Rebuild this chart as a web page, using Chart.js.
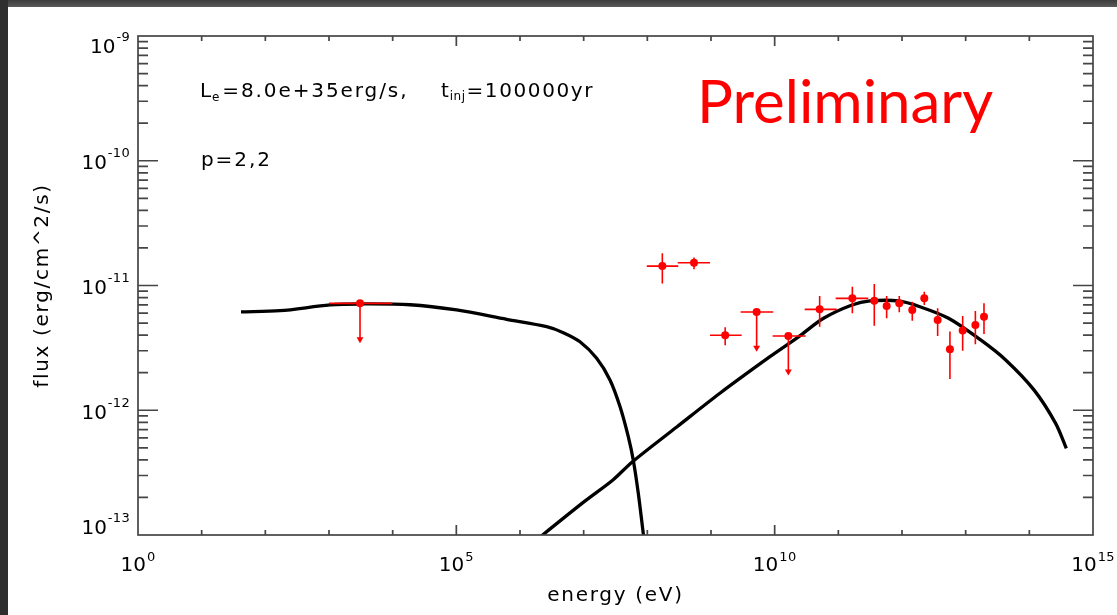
<!DOCTYPE html>
<html><head><meta charset="utf-8">
<script src="https://cdn.jsdelivr.net/npm/chart.js@4.4.1/dist/chart.umd.min.js"></script>
<style>
html,body{margin:0;padding:0;background:#fff;width:1117px;height:615px;overflow:hidden;position:relative}
#topband{position:absolute;left:0;top:0;width:1117px;height:7px;background:linear-gradient(#3c3c3c,#5a5a5a)}
#leftband{position:absolute;left:0;top:0;width:8px;height:615px;background:#2e2e2e}
#wrap{position:absolute;left:0;top:0;width:1117px;height:615px}
</style></head><body>
<div id="topband"></div><div id="leftband"></div>
<div id="wrap"><canvas id="c" width="1117" height="615"></canvas></div>
<script>
// ---- model curves (energy in eV, flux in erg/cm^2/s) ----
const syncEnergy = [41.5, 170, 1.04e3, 3.07e3, 1.87e4, 1.01e5, 6.18e5, 2.62e6, 4.79e6, 8.75e6, 1.60e7, 2.59e7, 3.72e7, 5.02e7, 6.01e7, 7.21e7, 8.63e7, 9.0e7];
const syncFlux   = [6.14e-12, 6.28e-12, 6.98e-12, 7.11e-12, 7.01e-12, 6.37e-12, 5.36e-12, 4.68e-12, 4.19e-12, 3.54e-12, 2.61e-12, 1.75e-12, 1.07e-12, 6.14e-13, 3.99e-13, 2.16e-13, 1.03e-13, 8.7e-14];
const icEnergy = [1.6e6, 2.17e6, 1.02e7, 2.88e7, 5.85e7, 2.93e8, 1.38e9, 8.43e9, 2.37e10, 5.86e10, 1.64e11, 3.14e11, 8.83e11, 1.91e12, 5.38e12, 1.72e13, 4.25e13, 1.19e14, 2.59e14, 3.81e14];
const icFlux   = [8.6e-14, 9.82e-14, 1.85e-13, 2.76e-13, 3.87e-13, 7.38e-13, 1.37e-12, 2.69e-12, 3.88e-12, 5.46e-12, 6.98e-12, 7.52e-12, 7.52e-12, 6.76e-12, 5.46e-12, 3.66e-12, 2.53e-12, 1.45e-12, 7.85e-13, 4.95e-13];

// ---- observed points ----
const obsEnergy     = [3.07e3, 1.72e8, 5.41e8, 1.67e9, 5.21e9, 1.64e10, 5.09e10, 1.66e11, 3.67e11, 5.74e11, 9.06e11, 1.45e12, 2.24e12, 3.63e12, 5.66e12, 8.97e12, 1.42e13, 1.94e13];
const obsFlux       = [7.19e-12, 1.43e-11, 1.52e-11, 3.99e-12, 6.14e-12, 3.94e-12, 6.44e-12, 7.89e-12, 7.55e-12, 6.85e-12, 7.19e-12, 6.37e-12, 7.89e-12, 5.28e-12, 3.08e-12, 4.35e-12, 4.82e-12, 5.62e-12];
const obsEnergyLow  = [1.0e3, 9.8e7, 3.0e8, 9.64e8, 2.92e9, 9.3e9, 2.96e10, 9.08e10, null, null, null, null, null, null, null, null, null, null];
const obsEnergyHigh = [9.86e3, 3.06e8, 9.64e8, 3.03e9, 9.5e9, 3.07e10, 9.42e10, 2.95e11, null, null, null, null, null, null, null, null, null, null];
const obsFluxLow    = [3.7e-12, 1.04e-11, 1.35e-11, 3.32e-12, 3.17e-12, 2.04e-12, 4.68e-12, 5.98e-12, 4.76e-12, 5.46e-12, 6.10e-12, 5.22e-12, 6.98e-12, 3.94e-12, 1.78e-12, 3.0e-12, 3.38e-12, 4.08e-12];
const obsFluxHigh   = [null, 1.81e-11, 1.68e-11, 4.62e-12, null, null, 8.24e-12, 9.77e-12, 1.03e-11, 8.24e-12, 8.24e-12, 7.41e-12, 8.91e-12, 6.56e-12, 4.27e-12, 5.70e-12, 6.25e-12, 7.19e-12];
const obsUpperLimit = [true, false, false, false, true, true, false, false, false, false, false, false, false, false, false, false, false, false];

// ---- tick labels (decade exponents) ----
const xTickExponents = [0, 5, 10, 15];
const yTickExponents = [-13, -12, -11, -10, -9];

const RED = '#ff0000';
const FONT = '"DejaVu Sans", sans-serif';

const syncData = syncEnergy.map((e, i) => ({x: e, y: syncFlux[i]}));
const icData = icEnergy.map((e, i) => ({x: e, y: icFlux[i]}));
const pointData = obsEnergy.map((e, i) => ({x: e, y: obsFlux[i]}));
const hBars = [];
const vBars = [];
const arrows = [];
obsEnergy.forEach((e, i) => {
  if (obsEnergyLow[i] != null) {
    hBars.push({x: obsEnergyLow[i], y: obsFlux[i]}, {x: obsEnergyHigh[i], y: obsFlux[i]}, {x: e, y: null});
  }
  const hi = obsUpperLimit[i] ? obsFlux[i] : obsFluxHigh[i];
  vBars.push({x: e, y: obsFluxLow[i]}, {x: e, y: hi}, {x: e, y: null});
  if (obsUpperLimit[i]) arrows.push({x: e, y: obsFluxLow[i]});
});

const spacingPlugin = {
  id: 'spacing',
  beforeDraw(chart) { chart.ctx.letterSpacing = '1.7px'; }
};

const framePlugin = {
  id: 'frame',
  afterDatasetsDraw(chart) {
    const {ctx, chartArea: {left, right, top, bottom}, scales: {x, y}} = chart;
    ctx.save();
    ctx.strokeStyle = '#454545';
    ctx.lineWidth = 1.7;
    ctx.strokeRect(left, top, right - left, bottom - top);
    ctx.beginPath();
    for (let k = 1; k < 15; k++) {
      const px = x.getPixelForValue(Math.pow(10, k));
      const len = (k % 5 === 0) ? 10 : 5;
      ctx.moveTo(px, bottom); ctx.lineTo(px, bottom - len);
      ctx.moveTo(px, top); ctx.lineTo(px, top + len);
    }
    for (let k = -13; k < -9; k++) {
      for (let m = 1; m < 10; m++) {
        if (k === -13 && m === 1) continue;
        const py = y.getPixelForValue(m * Math.pow(10, k));
        const len = m === 1 ? 20 : 10;
        ctx.moveTo(left, py); ctx.lineTo(left + len, py);
        ctx.moveTo(right, py); ctx.lineTo(right - len, py);
      }
    }
    ctx.stroke();
    ctx.restore();
  },
  afterDraw(chart) {
    const {ctx, chartArea: {left, right, top, bottom}, scales: {x, y}} = chart;
    ctx.save();
    ctx.fillStyle = '#000';
    ctx.textAlign = 'left';
    ctx.textBaseline = 'alphabetic';
    const EXPF = '13px ' + FONT;
    // y tick labels
    for (const e of yTickExponents) {
      const py = y.getPixelForValue(Math.pow(10, e));
      const cy = Math.min(Math.max(py + 1.5, top + 10), bottom - 8);
      ctx.font = EXPF; ctx.letterSpacing = '0.3px';
      const es = String(e);
      const ew = ctx.measureText(es).width;
      const xr = 130;
      ctx.fillText(es, xr - ew, cy - 5);
      ctx.font = '20px ' + FONT; ctx.letterSpacing = '0px';
      const bw = ctx.measureText('10').width;
      ctx.fillText('10', xr - ew - 1 - bw, cy + 7);
    }
    // x tick labels
    for (const e of xTickExponents) {
      const px = x.getPixelForValue(Math.pow(10, e));
      ctx.font = EXPF; ctx.letterSpacing = '0.3px';
      const es = String(e);
      const ew = ctx.measureText(es).width;
      ctx.font = '20px ' + FONT; ctx.letterSpacing = '0px';
      const bw = ctx.measureText('10').width;
      const sx = px - (bw + 1 + ew) / 2;
      ctx.fillText('10', sx, bottom + 36);
      ctx.font = EXPF; ctx.letterSpacing = '0.3px';
      ctx.fillText(es, sx + bw + 1, bottom + 26);
    }
    // annotations
    const big = '20px ' + FONT, small = '12px ' + FONT;
    ctx.letterSpacing = '1.9px';
    let xx = 200;
    ctx.font = big; ctx.fillText('L', xx, 97); xx += ctx.measureText('L').width;
    ctx.font = small; ctx.fillText('e', xx - 1, 101); xx += ctx.measureText('e').width;
    ctx.font = big; ctx.fillText('=8.0e+35erg/s,', xx, 97);
    xx = 441;
    ctx.font = big; ctx.fillText('t', xx, 97); xx += ctx.measureText('t').width;
    ctx.font = small; ctx.letterSpacing = '0.5px'; ctx.fillText('inj', xx - 1, 100); xx += ctx.measureText('inj').width;
    ctx.font = big; ctx.letterSpacing = '1.6px'; ctx.fillText('=100000yr', xx, 97);
    ctx.letterSpacing = '1.9px';
    ctx.fillText('p=2,2', 201, 166);
    // Preliminary
    ctx.letterSpacing = '0px';
    ctx.font = '60px Lato, "Open Sans", sans-serif';
    ctx.fillStyle = RED;
    ctx.fillText('Preliminary', 697, 123);
    ctx.restore();
  }
};

new Chart(document.getElementById('c'), {
  type: 'line',
  data: {
    datasets: [
      {data: pointData, showLine: false, pointRadius: 4, pointHoverRadius: 4, pointBackgroundColor: RED, pointBorderColor: RED, pointBorderWidth: 0, borderColor: RED, order: 1},
      {data: arrows, showLine: false, pointStyle: 'triangle', rotation: 180, pointRadius: 4, pointBackgroundColor: RED, pointBorderColor: RED, pointBorderWidth: 0, order: 2},
      {data: hBars, borderColor: RED, borderWidth: 1.6, pointRadius: 0, spanGaps: false, order: 3},
      {data: vBars, borderColor: RED, borderWidth: 1.6, pointRadius: 0, spanGaps: false, order: 4},
      {data: syncData, borderColor: '#000', borderWidth: 3.3, pointRadius: 0, tension: 0.3, order: 5},
      {data: icData, borderColor: '#000', borderWidth: 3.3, pointRadius: 0, tension: 0.3, order: 6}
    ]
  },
  options: {
    responsive: false,
    animation: false,
    layout: {padding: {left: 20, right: 24, top: 36, bottom: 0}},
    plugins: {legend: {display: false}, tooltip: {enabled: false}},
    scales: {
      x: {
        type: 'logarithmic', min: 1, max: 1e15,
        grid: {display: false}, border: {display: false},
        ticks: {display: false},
        title: {display: true, text: 'energy (eV)', color: '#000', font: {family: FONT, size: 20}, padding: {top: 0, bottom: 7}},
        afterFit(s) { s.height = 80; }
      },
      y: {
        type: 'logarithmic', min: 1e-13, max: 1e-9,
        grid: {display: false}, border: {display: false},
        ticks: {display: false},
        title: {display: true, text: 'flux (erg/cm^2/s)', color: '#000', font: {family: FONT, size: 20}, padding: {top: 11, bottom: 0}},
        afterFit(s) { s.width = 118; }
      }
    }
  },
  plugins: [spacingPlugin, framePlugin]
});
</script>
</body></html>
